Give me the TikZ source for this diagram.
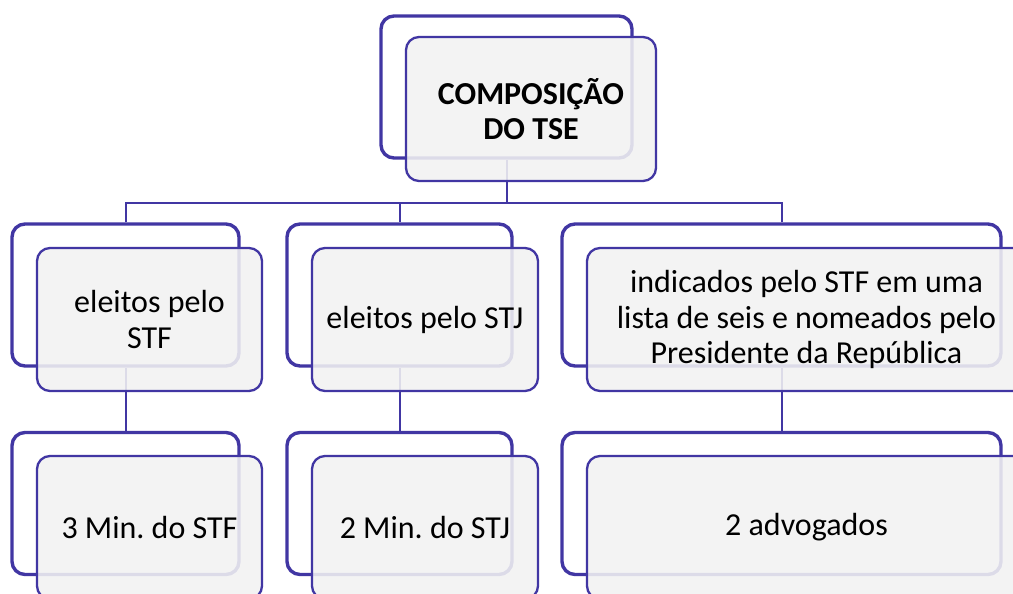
\documentclass[tikz,border=0pt]{standalone}
\usepackage{fontspec}
\setmainfont{Carlito}
\frenchspacing
\definecolor{pur}{HTML}{4136A3}
\definecolor{gr}{HTML}{F2F2F2}
\tikzset{
  backbox/.style={draw=pur, line width=3.4pt, fill=white, rounded corners=13pt, minimum height=142pt, inner sep=0pt},
  frontbox/.style={draw=pur, line width=2.3pt, fill=gr, fill opacity=0.88, text opacity=1, rounded corners=13pt, minimum height=143pt, inner sep=0pt, align=center, font=\fontsize{32}{35.5}\selectfont},
  conn/.style={draw=pur, line width=2pt},
}
\begin{document}
\begin{tikzpicture}[x=1pt,y=-1pt]
\clip (0,0) rectangle (1013,594);
\fill[white] (0,0) rectangle (1013,594);
% back boxes
\node[backbox, minimum width=251pt] (t0) at (506.5,87) {};
\node[backbox, minimum width=227pt] (a1) at (125.5,295) {};
\node[backbox, minimum width=225pt] (b1) at (399.5,295) {};
\node[backbox, minimum width=439pt] (c1) at (781.5,295) {};
\node[backbox, minimum width=227pt] (a2) at (125.5,503.5) {};
\node[backbox, minimum width=225pt] (b2) at (399.5,503.5) {};
\node[backbox, minimum width=439pt] (c2) at (781.5,503.5) {};
% connectors
\coordinate (hub) at (506.5,203);
\draw[conn] (t0.south) -- (hub);
\draw[conn] (a1.north) |- (hub) -| (c1.north);
\draw[conn] (hub) -| (b1.north);
\draw[conn] (a1.south) -- (a2.north);
\draw[conn] (b1.south) -- (b2.north);
\draw[conn] (c1.south) -- (c2.north);
% front boxes
\node[frontbox, minimum width=250pt, minimum height=144pt, font=\fontsize{32}{35}\selectfont\bfseries] (t0f) at (531,109) {COMPOSIÇÃO\\DO TSE};
\node[frontbox, minimum width=225pt] (a1f) at (149.5,319.5) {eleitos pelo\\STF};
\node[frontbox, minimum width=226pt] (b1f) at (425,319.5) {eleitos pelo STJ};
\node[frontbox, minimum width=439pt] (c1f) at (806.5,319.5) {indicados pelo STF em uma\\lista de seis e nomeados pelo\\Presidente da República};
\node[frontbox, minimum width=225pt] (a2f) at (149.5,527.5) {3 Min. do STF};
\node[frontbox, minimum width=226pt] (b2f) at (425,527.5) {2 Min. do STJ};
\node[frontbox, minimum width=439pt] (c2f) at (806.5,527.5) {2 advogados};
\end{tikzpicture}
\end{document}
